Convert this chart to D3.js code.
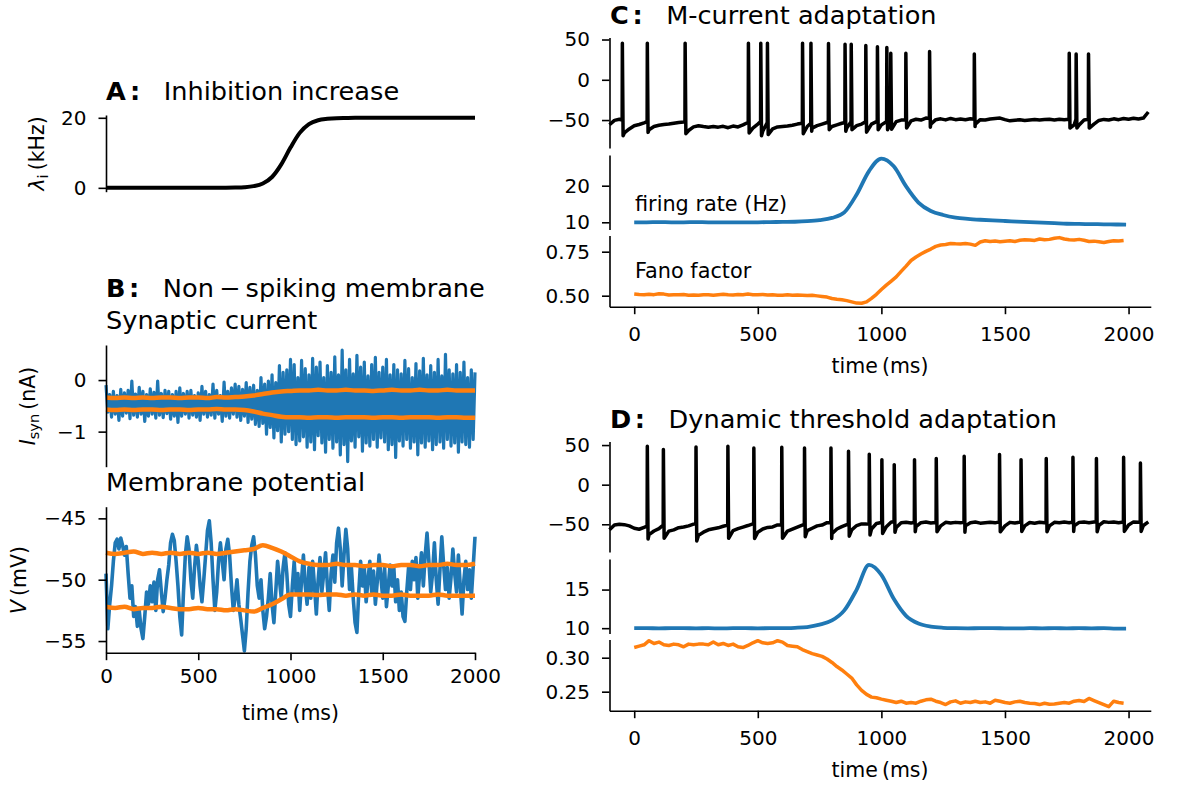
<!DOCTYPE html>
<html><head><meta charset="utf-8">
<script src="https://cdn.jsdelivr.net/npm/d3@7"></script>
<style>body{margin:0;background:#fff}svg{display:block}</style>
</head><body>
<script>
// ---------------- DATA ----------------
// Panel A: inhibitory rate (kHz), sampled every 50 ms from 0 to 2000
const lambdaI = [0,0,0,0,0,0,0,0,0,0,0,0,0,
  0.02,0.07,0.18,0.49,1.25,3.1,6.7,11.5,15.7,18.2,19.3,19.7,19.9,19.96,
  20,20,20,20,20,20,20,20,20,20,20,20,20,20];

// Panel B: synaptic current (nA), every 10 ms from 0 to 2000
const isyn = [
 -0.10,-0.62,-0.28,-0.72,-0.22,-0.66,-0.30,-0.78,-0.18,-0.70,
 -0.25,-0.64,-0.20,-0.75,-0.02,-0.68,-0.27,-0.72,-0.14,-0.66,
 -0.22,-0.80,-0.28,-0.70,-0.17,-0.66,-0.24,-0.74,-0.02,-0.68,
 -0.26,-0.73,-0.20,-0.65,-0.22,-0.76,-0.28,-0.70,-0.22,-0.82,
 -0.15,-0.70,-0.26,-0.66,-0.22,-0.74,-0.20,-0.68,-0.30,-0.72,
 -0.25,-0.78,-0.12,-0.66,-0.22,-0.72,-0.28,-0.68,-0.08,-0.74,
 -0.20,-0.66,-0.30,-0.80,-0.04,-0.70,-0.22,-0.74,-0.15,-0.66,
 -0.08,-0.72,-0.12,-0.78,-0.18,-0.70,-0.05,-0.82,-0.14,-0.76,
 -0.10,-0.86,-0.20,-0.90,0.05,-0.84,-0.08,-1.05,-0.02,-0.92,
 0.10,-1.12,-0.05,-0.98,0.28,-1.20,0.15,-1.05,0.20,-1.00,
 0.40,-1.15,0.30,-1.25,0.05,-1.18,0.38,-1.10,0.22,-1.30,
 0.10,-1.20,0.42,-1.35,0.25,-1.08,0.35,-1.22,0.05,-1.40,
 0.28,-1.15,0.15,-1.32,0.45,-1.20,0.10,-1.45,0.58,-1.25,
 0.20,-1.58,0.40,-1.18,0.12,-1.30,0.48,-1.10,0.25,-1.38,
 0.35,-1.22,0.08,-1.28,0.30,-1.15,0.44,-1.30,0.15,-1.12,
 0.25,-1.20,0.40,-1.35,0.10,-1.25,0.30,-1.50,0.20,-1.18,
 0.12,-1.28,0.38,-1.15,0.22,-1.32,0.05,-1.20,0.32,-1.45,
 0.18,-1.22,0.42,-1.30,0.10,-1.18,0.28,-1.35,0.15,-1.25,
 0.40,-1.20,0.08,-1.32,0.50,-1.15,0.20,-1.28,0.12,-1.22,
 0.30,-1.40,0.15,-1.20,0.35,-1.25,0.05,-1.30,0.20,-1.15,
 0.15];
// orange bands for I_syn, every 50 ms
const isynUpper = [-0.34,-0.35,-0.34,-0.35,-0.34,-0.35,-0.34,-0.34,-0.35,-0.34,-0.34,-0.35,-0.33,-0.34,
 -0.33,-0.32,-0.30,-0.27,-0.24,-0.22,-0.21,-0.20,-0.20,-0.19,-0.20,-0.20,-0.19,-0.20,-0.20,-0.21,
 -0.20,-0.19,-0.20,-0.20,-0.19,-0.20,-0.20,-0.19,-0.20,-0.20,-0.20];
const isynLower = [-0.57,-0.58,-0.57,-0.58,-0.57,-0.57,-0.58,-0.57,-0.57,-0.58,-0.57,-0.57,-0.56,-0.57,
 -0.57,-0.58,-0.61,-0.65,-0.68,-0.71,-0.72,-0.72,-0.73,-0.72,-0.72,-0.73,-0.72,-0.72,-0.72,-0.73,
 -0.72,-0.72,-0.73,-0.72,-0.72,-0.72,-0.73,-0.72,-0.72,-0.73,-0.73];

// Panel B: membrane potential (mV), every 10 ms from 0 to 2000
const vmem = [
 -49.5,-54.0,-52.0,-50.5,-48.5,-47.0,-46.7,-47.5,-46.6,-47.2,
 -48.0,-47.3,-49.5,-51.5,-50.5,-53.0,-52.2,-53.8,-52.5,-54.0,
 -54.8,-53.0,-51.0,-52.0,-50.5,-51.8,-50.2,-52.5,-50.0,-49.2,
 -51.0,-52.6,-51.5,-50.0,-48.8,-47.0,-46.3,-46.8,-48.5,-50.5,
 -53.0,-54.5,-51.0,-48.0,-46.5,-47.5,-50.0,-51.5,-49.0,-47.2,
 -48.5,-50.5,-51.8,-50.0,-48.0,-46.0,-45.2,-47.0,-50.0,-52.5,
 -51.0,-48.5,-47.0,-48.5,-50.0,-47.5,-46.7,-48.0,-50.5,-52.5,
 -51.5,-50.0,-52.0,-53.2,-54.5,-55.8,-54.0,-51.0,-48.5,-47.2,
 -46.5,-48.0,-50.5,-51.5,-50.0,-52.5,-54.0,-53.0,-51.5,-49.5,
 -52.0,-53.5,-51.0,-48.5,-50.0,-51.5,-49.0,-47.8,-49.5,-52.0,
 -53.0,-50.5,-48.5,-51.0,-49.5,-52.5,-50.0,-48.0,-50.5,-52.0,
 -49.0,-51.5,-48.5,-50.5,-52.8,-50.0,-48.2,-51.0,-49.5,-47.8,
 -50.5,-52.5,-49.5,-48.0,-50.2,-47.0,-45.8,-47.5,-50.5,-48.0,
 -45.9,-47.5,-50.8,-49.0,-51.5,-53.5,-54.3,-51.0,-48.5,-50.5,
 -49.0,-51.8,-50.0,-48.5,-51.0,-49.3,-52.0,-50.2,-48.0,-49.8,
 -51.5,-49.0,-52.2,-50.5,-48.8,-50.5,-49.0,-51.8,-50.0,-52.5,
 -51.0,-53.0,-53.4,-51.0,-49.0,-50.8,-48.5,-50.0,-48.2,-51.5,
 -49.5,-47.8,-50.5,-48.0,-46.2,-48.5,-51.0,-49.5,-47.0,-50.0,
 -52.0,-49.2,-46.5,-48.8,-50.8,-49.0,-51.5,-49.8,-47.5,-49.5,
 -51.0,-48.0,-50.5,-52.8,-50.0,-48.5,-50.8,-49.2,-51.5,-49.0,
 -46.5];
const vUpper = [-47.8,-47.9,-47.8,-47.7,-47.9,-47.8,-47.9,-47.8,-47.9,-47.8,-47.9,-47.8,-47.9,-47.8,
 -47.7,-47.6,-47.5,-47.2,-47.4,-47.7,-48.1,-48.5,-48.7,-48.8,-48.8,-48.7,-48.8,-48.8,-48.9,-48.8,
 -48.8,-48.9,-48.8,-48.8,-48.9,-48.8,-48.8,-48.7,-48.8,-48.8,-48.7];
const vLower = [-52.2,-52.3,-52.2,-52.4,-52.3,-52.3,-52.2,-52.3,-52.4,-52.4,-52.3,-52.4,-52.4,-52.5,
 -52.4,-52.5,-52.6,-52.3,-52.0,-51.6,-51.2,-51.2,-51.2,-51.25,-51.2,-51.2,-51.3,-51.2,-51.3,-51.2,
 -51.3,-51.3,-51.2,-51.3,-51.3,-51.3,-51.2,-51.3,-51.3,-51.3,-51.3];

// Panels C / D: subthreshold voltage (mV), every 20 ms from -100 to 2080
const vBaseC = [
 -55.8,-50.4,-49.0,-66.0,-61.0,-57.0,-55.5,-53.5,-62.0,-58.0,
 -56.5,-55.5,-55.0,-54.0,-53.0,-52.5,-63.0,-58.5,-57.0,-58.0,
 -58.8,-58.0,-58.8,-57.8,-59.5,-57.5,-58.5,-56.0,-53.0,-60.0,
 -55.0,-64.0,-54.0,-61.0,-58.5,-58.0,-57.5,-56.5,-55.0,-53.5,
 -58.0,-60.0,-57.0,-55.0,-53.0,-58.0,-56.0,-54.0,-60.0,-53.0,
 -57.0,-55.0,-60.0,-55.0,-52.0,-56.0,-52.0,-58.0,-52.0,-50.0,
 -56.0,-51.0,-49.0,-50.0,-47.5,-55.0,-49.5,-48.5,-49.8,-48.0,
 -49.5,-48.8,-49.6,-48.5,-55.0,-49.5,-50.0,-48.8,-48.2,-47.5,
 -49.5,-51.0,-50.2,-49.6,-50.5,-49.8,-49.2,-50.0,-49.4,-49.0,
 -49.8,-49.0,-49.5,-49.0,-56.0,-56.0,-50.0,-50.0,-55.0,-50.5,
 -49.2,-50.0,-48.5,-49.5,-48.0,-49.0,-47.8,-48.8,-47.5,-40.0];
const spikeTimesC  = [-48,53,206,462,512,539,681,715,786,853,878,937,984,1022,1038,1099,1195,1376,1760,1788,1838];
const spikePeaksC  = [45.5,45.5,45.5,45.5,45.5,45.5,45.5,45.5,45,44,44,42.6,41,40,33,33,35,32,33,32,32];
const spikeThrC    = [-50,-52,-52,-53,-52,-53,-54,-54,-53,-53,-52,-52,-51,-51,-51,-50,-48,-49,-49,-49,-49];
const spikeTroughC = [-69.4,-65.3,-67,-66,-69.4,-68,-67,-64,-62,-64,-62,-65,-62,-62,-61.5,-60,-59,-58,-60,-60,-60];

const vBaseD = [
 -57.0,-51.0,-50.0,-50.5,-52.0,-55.0,-56.3,-54.0,-63.0,-58.5,
 -55.5,-62.0,-58.6,-57.0,-54.3,-53.5,-52.0,-49.8,-64.0,-60.0,
 -57.0,-55.7,-54.5,-52.5,-51.0,-58.0,-55.5,-53.5,-51.6,-49.5,
 -60.0,-56.0,-54.0,-53.4,-50.9,-63.0,-58.5,-56.0,-53.5,-51.0,
 -58.0,-55.0,-52.0,-51.0,-48.0,-62.0,-56.0,-53.0,-50.5,-57.0,
 -51.6,-49.5,-49.8,-56.0,-49.0,-47.7,-53.0,-47.0,-54.0,-48.0,
 -47.5,-48.5,-53.0,-48.0,-47.2,-48.5,-47.8,-52.0,-47.5,-48.5,
 -47.6,-48.2,-52.0,-48.0,-47.2,-48.6,-48.0,-47.4,-48.2,-47.0,
 -52.0,-47.6,-48.5,-47.3,-52.0,-47.8,-48.6,-47.5,-48.2,-52.0,
 -47.5,-48.2,-47.2,-48.0,-52.0,-47.6,-47.0,-48.0,-47.2,-51.5,
 -46.8,-47.6,-47.0,-48.0,-47.2,-51.0,-47.0,-47.5,-51.5,-47.0];
const spikeTimesD  = [53,118,250,379,484,597,689,796,867,951,1002,1052,1134,1222,1335,1478,1565,1667,1775,1870,1980,2048];
const spikePeaksD  = [48.5,44.3,47.7,48.5,46.4,47.3,46.4,46.4,42.2,38.5,31.6,25.3,31.6,32.9,35.8,38,31.6,33,34.6,33,34.6,27.4];
const spikeThrD    = [-52,-51,-49.5,-51,-49.5,-50.5,-50,-48,-50,-49.5,-47.7,-47,-47.5,-47.8,-47.6,-47,-47.5,-47.5,-47.2,-47.2,-47.2,-47.5];
const spikeTroughD = [-68.6,-67.7,-71,-67.7,-68,-67.7,-65.6,-68,-65,-63.5,-61.5,-60,-59.5,-59.5,-60,-59.5,-59,-59.5,-59,-59.5,-59,-59];

// firing rates (Hz) and Fano factors
const rateTimes = [0,50,100,150,200,250,300,350,400,450,500,550,600,650,700,750,800,850,900,950,1000,
 1050,1100,1150,1200,1250,1300,1350,1400,1450,1500,1550,1600,1650,1700,1750,1800,1850,1900,1950,1990];
const rateC = [10.0,10.0,10.05,10.0,10.0,10.05,10.0,10.0,10.0,10.0,10.0,10.05,10.1,10.15,10.3,10.6,11.2,12.7,17.6,24.0,27.4,
 25.3,19.8,15.4,13.1,12.0,11.3,10.95,10.7,10.5,10.35,10.2,10.05,9.9,9.75,9.6,9.55,9.5,9.45,9.4,9.35];
const rateD = [10.0,10.0,9.98,10.0,10.0,9.98,10.0,9.97,10.0,10.0,9.98,10.0,10.0,10.05,10.15,10.45,11.0,12.3,15.0,18.2,16.9,
 13.8,11.6,10.6,10.2,10.05,10.0,9.98,10.0,10.0,9.98,9.97,10.0,9.98,10.0,9.98,10.0,9.98,10.0,9.95,9.95];
// Fano factor every 20 ms from 0 to 1980
const fanoC = [
 0.510,0.507,0.505,0.508,0.506,0.511,0.509,0.504,0.506,0.505,
 0.507,0.503,0.504,0.502,0.506,0.505,0.503,0.506,0.508,0.505,
 0.504,0.507,0.506,0.509,0.506,0.505,0.507,0.504,0.505,0.503,
 0.503,0.505,0.502,0.504,0.503,0.501,0.502,0.499,0.496,0.492,
 0.484,0.480,0.477,0.472,0.465,0.458,0.457,0.465,0.485,0.508,
 0.535,0.560,0.583,0.607,0.638,0.668,0.700,0.720,0.737,0.752,
 0.765,0.780,0.788,0.791,0.797,0.795,0.794,0.797,0.793,0.786,
 0.805,0.812,0.808,0.811,0.806,0.809,0.812,0.808,0.815,0.818,
 0.817,0.814,0.822,0.818,0.820,0.826,0.830,0.822,0.818,0.816,
 0.820,0.815,0.808,0.810,0.806,0.802,0.808,0.812,0.811,0.814];
const fanoD = [
 0.315,0.317,0.319,0.325,0.321,0.323,0.319,0.318,0.320,0.319,
 0.316,0.320,0.319,0.320,0.320,0.319,0.323,0.319,0.321,0.318,
 0.320,0.316,0.315,0.318,0.322,0.325,0.322,0.321,0.322,0.325,
 0.323,0.318,0.317,0.316,0.312,0.309,0.306,0.304,0.302,0.298,
 0.293,0.287,0.282,0.276,0.270,0.260,0.252,0.246,0.242,0.241,
 0.239,0.2375,0.236,0.234,0.236,0.233,0.234,0.233,0.236,0.238,
 0.239,0.236,0.234,0.231,0.235,0.2365,0.233,0.235,0.234,0.236,
 0.234,0.235,0.233,0.2375,0.236,0.234,0.233,0.235,0.236,0.234,
 0.233,0.2325,0.231,0.233,0.2315,0.232,0.233,0.234,0.233,0.236,
 0.237,0.2355,0.240,0.237,0.234,0.231,0.228,0.236,0.234,0.233];

// tick labels
const timeTicks = [0,500,1000,1500,2000];
const ticksA = [0,20];
const ticksIsyn = [-1,0];
const ticksV = [-55,-50,-45];
const ticksSpikeV = [-50,0,50];
const ticksRateC = [10,20];
const ticksRateD = [10,15];
const ticksFanoC = [0.50,0.75];
const ticksFanoD = [0.25,0.30];

// ---------------- DRAWING ----------------
const FONT = "'DejaVu Sans', sans-serif";
const TFS = 20;
const TITLE_FS = 25.6;
const BLUE = '#1f77b4', ORANGE = '#ff7f0e';
const svg = d3.select('body').append('svg').attr('width',1179).attr('height',789)
  .attr('font-family',FONT);

function styleAxis(g){
  g.attr('font-family',FONT).attr('font-size',TFS);
  g.select('.domain').attr('stroke','#000').attr('stroke-width',1.6);
  g.selectAll('.tick line').attr('stroke','#000').attr('stroke-width',1.6);
  g.selectAll('.tick text').attr('fill','#000');
}
function leftAxis(scale, x, ticks, fmt){
  const g = svg.append('g').attr('transform',`translate(${x},0)`)
    .call(d3.axisLeft(scale).tickValues(ticks).tickSize(7.5).tickSizeOuter(0).tickPadding(12)
      .tickFormat(fmt || d3.format('')));
  styleAxis(g);
}
function bottomAxis(scale, y, pad){
  const g = svg.append('g').attr('transform',`translate(0,${y})`)
    .call(d3.axisBottom(scale).tickValues(timeTicks).tickSize(7.5).tickSizeOuter(0).tickPadding(pad)
      .tickFormat(d3.format('')));
  styleAxis(g);
}
function drawLine(pts, xs, ys, color, w, curve){
  svg.append('path').datum(pts)
    .attr('d', d3.line().x(d=>xs(d[0])).y(d=>ys(d[1])).curve(curve || d3.curveLinear))
    .attr('fill','none').attr('stroke',color).attr('stroke-width',w)
    .attr('stroke-linejoin','round').attr('stroke-linecap','butt');
}
function title(x, y, letter, rest){
  const t = svg.append('text').attr('x',x).attr('y',y).attr('font-size',TITLE_FS).attr('fill','#000');
  t.append('tspan').attr('font-weight','bold').text(letter);
  t.append('tspan').attr('font-weight','bold').attr('dx',3.6).text(':');
  t.append('tspan').attr('dx',23.5).text(rest);
}
function plain(x, y, txt, fs, anchor){
  svg.append('text').attr('x',x).attr('y',y).attr('font-size',fs).attr('fill','#000')
    .attr('text-anchor',anchor||'start').text(txt);
}
function yLabel(bx, cy, main, italic, sub, rest){
  const t = svg.append('text').attr('transform',`translate(${bx},${cy}) rotate(-90)`)
    .attr('text-anchor','middle').attr('font-size',20.5).attr('fill','#000');
  t.append('tspan').attr('font-style',italic?'italic':'normal').text(main);
  if (sub){ t.append('tspan').attr('font-size',14.5).attr('dy',4).text(sub);
            t.append('tspan').attr('dy',-4).text(rest); }
  else t.append('tspan').text(rest);
}
const series = (arr, t0, dt) => arr.map((v,i)=>[t0+i*dt, v]);
function vTrace(base, t0, dt, spT, spP, spTh, spTr){
  const pts = [];
  base.forEach((v,i)=>{ const t = t0+i*dt;
    if (!spT.some(s => t >= s-1 && t < s+4)) pts.push([t,v]); });
  spT.forEach((s,k)=>{ pts.push([s-0.8, spTh[k]],[s, spP[k]],[s+3, spTr[k]]); });
  pts.sort((a,b)=>a[0]-b[0]);
  return pts;
}

// ---- Panel A ----
const xB = d3.scaleLinear([0,2000],[106,475]);
const yA = d3.scaleLinear([-1.1,20.8],[191.7,115]);
drawLine(series(lambdaI,0,50), xB, yA, '#000', 4, d3.curveMonotoneX);
leftAxis(yA, 106, ticksA);
title(106, 100, 'A', 'Inhibition increase');
yLabel(44, 153.4, 'λ', true, 'i', '\u2009(kHz)');

// ---- Panel B ----
title(106, 297, 'B', 'Non\u2009\u2212\u2009spiking membrane');
plain(106, 329, 'Synaptic current', TITLE_FS);
const yI = d3.scaleLinear([-1.68,0.68],[466.7,345]);
drawLine(series(isyn,0,10), xB, yI, BLUE, 3.2);
drawLine(series(isynUpper,0,50), xB, yI, ORANGE, 4.5, d3.curveMonotoneX);
drawLine(series(isynLower,0,50), xB, yI, ORANGE, 4.5, d3.curveMonotoneX);
leftAxis(yI, 106, ticksIsyn);
yLabel(35, 406, 'I', true, 'syn', '\u2009(nA)');

plain(106, 491, 'Membrane potential', TITLE_FS);
const yV = d3.scaleLinear([-55.95,-44.05],[652.7,506.7]);
drawLine(series(vmem,0,10), xB, yV, BLUE, 3.6);
drawLine(series(vUpper,0,50), xB, yV, ORANGE, 4.5, d3.curveMonotoneX);
drawLine(series(vLower,0,50), xB, yV, ORANGE, 4.5, d3.curveMonotoneX);
leftAxis(yV, 106, ticksV);
bottomAxis(xB, 652.7, 9);
yLabel(26, 580, 'V', true, null, '\u2009(mV)');
plain(290.5, 720, 'time\u2009(ms)', 20.5, 'middle');

// ---- Panels C and D ----
const xC = d3.scaleLinear([-100,2090],[609.5,1150.8]);
function spikePanel(off, letter, name, base, spT, spP, spTh, spTr, vDom, rate, rDom, rTicks, fano, fDom, fTicks, showText){
  title(610, 24+off, letter, name);
  const yv = d3.scaleLinear(vDom,[148+off,37.5+off]);
  drawLine(vTrace(base,-100,20,spT,spP,spTh,spTr), xC, yv, '#000', 3.5);
  leftAxis(yv, 609.5, ticksSpikeV);
  const yr = d3.scaleLinear(rDom,[229.5+off,155+off]);
  drawLine(rateTimes.map((t,i)=>[t, rate[i]]), xC, yr, BLUE, 3.8, d3.curveMonotoneX);
  leftAxis(yr, 609.5, rTicks);
  const yf = d3.scaleLinear(fDom,[306.7+off,235.5+off]);
  drawLine(series(fano,0,20), xC, yf, ORANGE, 3.5);
  leftAxis(yf, 609.5, fTicks, d3.format('.2f'));
  bottomAxis(xC, 306.7+off, 12.5);
  plain(880, 373+off, 'time\u2009(ms)', 20.5, 'middle');
  if (showText){
    plain(635, 211, 'firing rate (Hz)', 20.8);
    plain(635, 278, 'Fano factor', 20.8);
  }
}
spikePanel(0,'C','M-current adaptation', vBaseC, spikeTimesC, spikePeaksC, spikeThrC, spikeTroughC,
  [-84.7,52.5], rateC, [8.03,28.39], ticksRateC, fanoC, [0.4375,0.842], ticksFanoC, true);
spikePanel(404,'D','Dynamic threshold adaptation', vBaseD, spikeTimesD, spikePeaksD, spikeThrD, spikeTroughD,
  [-85,54.5], rateD, [9.31,18.96], ticksRateD, fanoD, [0.222,0.3268], ticksFanoD, false);
</script>
</body></html>
